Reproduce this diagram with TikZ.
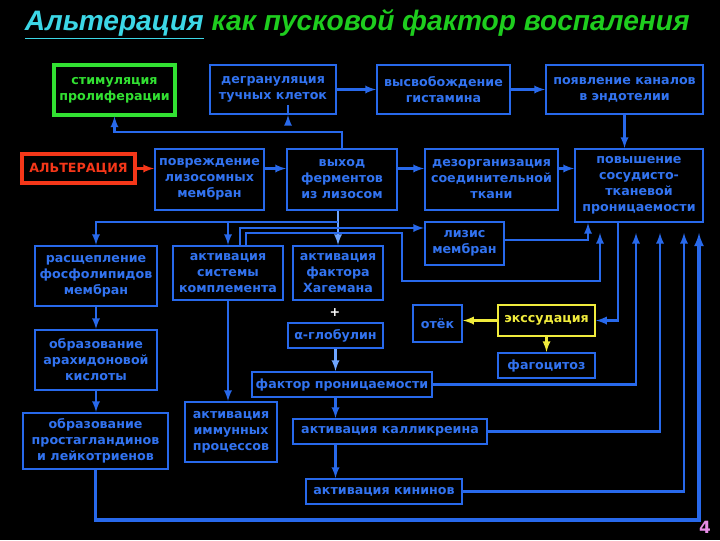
\documentclass[tikz,border=0pt]{standalone}
\usepackage{fontspec}
\setmainfont{DejaVu Sans}
\newfontfamily\titlefont{Liberation Sans}
\usetikzlibrary{calc}
\definecolor{lineblue}{RGB}{40,105,235}
\definecolor{textblue}{RGB}{50,115,240}
\definecolor{lightline}{RGB}{110,165,255}
\definecolor{boxgreen}{RGB}{50,225,50}
\definecolor{boxred}{RGB}{245,55,25}
\definecolor{boxyellow}{RGB}{240,235,60}
\definecolor{titlecyan}{RGB}{60,215,230}
\definecolor{titlegreen}{RGB}{30,205,30}
\definecolor{pagepink}{RGB}{230,140,230}
\begin{document}
\begin{tikzpicture}[x=0.025cm,y=-0.025cm,
	box/.style={draw=lineblue, line width=1.5pt, text=textblue, font=\fontsize{9}{11.4}\selectfont\bfseries, align=center, inner sep=0pt},
	sz/.style 2 args={minimum width=#1*0.025cm, minimum height=#2*0.025cm},
	arr/.style={draw=lineblue, line width=1.6pt, -latex},
	yarr/.style={draw=boxyellow, line width=1.6pt, -latex}]
	\fill[black] (0,0) rectangle (720,540);
	\useasboundingbox (0,0) rectangle (720,540);
	\node[anchor=base west, font=\titlefont\fontsize{20}{24}\selectfont\bfseries\itshape] (title) at (20,30) {\textcolor{titlecyan}{\underline{Альтерация}} \textcolor{titlegreen}{как пусковой фактор воспаления}};
	\node[box, draw=boxgreen, line width=2.2pt, text=boxgreen, sz={121}{50}] (stim) at (114.5,90) {стимуляция\\пролиферации};
	\node[box, sz={126}{49}] (degr) at (273,89.5) {дегрануляция\\тучных клеток};
	\node[box, sz={133}{49}] (hist) at (443.5,89.5) {высвобождение\\гистамина};
	\node[box, sz={157}{49}] (kanal) at (624.5,89.5) {появление каналов\\в эндотелии};
	\node[box, draw=boxred, line width=3pt, text=boxred, sz={113}{29}] (alt) at (78.5,168.5) {АЛЬТЕРАЦИЯ};
	\node[box, sz={109}{61}] (povr) at (209.5,179.5) {повреждение\\лизосомных\\мембран};
	\node[box, sz={110}{61}] (vyhod) at (342,179.5) {выход\\ферментов\\из лизосом};
	\node[box, sz={133}{61}] (dezorg) at (491.5,179.5) {дезорганизация\\соединительной\\ткани};
	\node[box, sz={128}{73}] (povysh) at (639,185.5) {повышение\\сосудисто-\\тканевой\\проницаемости};
	\node[box, sz={79}{43}] (lizis) at (464.5,243.5) {лизис\\мембран};
	\node[box, sz={122}{60}] (rassch) at (96,276) {расщепление\\фосфолипидов\\мембран};
	\node[box, sz={110}{54}] (kompl) at (228,273) {активация\\системы\\комплемента};
	\node[box, sz={90}{54}] (hagem) at (338,273) {активация\\фактора\\Хагемана};
	\node[box, draw=none, text=white] (plus) at (335,313) {+};
	\node[box, sz={95}{25}] (glob) at (335.5,335.5) {α-глобулин};
	\node[box, sz={180}{25}] (faktor) at (342,384.5) {фактор проницаемости};
	\node[box, sz={122}{60}] (arah) at (96,360) {образование\\арахидоновой\\кислоты};
	\node[box, sz={145}{56}] (prost) at (95.5,441) {образование\\простагландинов\\и лейкотриенов};
	\node[box, sz={92}{60}] (immun) at (231,432) {активация\\иммунных\\процессов};
	\node[box, sz={194}{25}] (kallik) at (390,431.5) {активация калликреина};
	\node[box, sz={156}{25}] (kinin) at (384,491.5) {активация кининов};
	\node[box, sz={49}{37}] (otek) at (437.5,323.5) {отёк};
	\node[box, draw=boxyellow, text=boxyellow, sz={97}{31}] (exsud) at (546.5,320.5) {экссудация};
	\node[box, sz={97}{25}] (fagoc) at (546.5,365.5) {фагоцитоз};
	\node[text=pagepink, font=\bfseries\fontsize{12}{14}\selectfont] (pnum) at (705,527) {4};
	\coordinate (jtop) at (342,132);
	\coordinate (jmid) at (338,222);
	\coordinate (u1) at (600,233);
	\coordinate (u2) at (636,233);
	\coordinate (u3) at (660,233);
	\coordinate (u4) at (684,233);
	\coordinate (u5) at (699,233);
	\draw[arr, draw=boxred] (alt) -- (povr.west |- alt);
	\draw[arr] (povr.east |- alt) -- (vyhod.west |- alt);
	\draw[arr] (vyhod.east |- alt) -- (dezorg.west |- alt);
	\draw[arr] (dezorg.east |- alt) -- (povysh.west |- alt);
	\draw[arr] (degr) -- (hist);
	\draw[arr] (hist) -- (kanal);
	\draw[arr] (kanal) -- (kanal |- povysh.north);
	\draw[arr] (vyhod.north) -- (jtop) -| (stim.south);
	\draw[arr] ($(degr.south)+(15,0)$ |- jtop) -- ($(degr.south)+(15,0)$);
	\draw[arr, draw=lightline] (vyhod.south -| hagem) -- (hagem.north);
	\draw[arr] (jmid) -| (rassch.north);
	\draw[arr] (jmid -| kompl.north) -- (kompl.north);
	\draw[arr] ($(kompl.north)+(12,0)$) |- (lizis.west |- 0,228);
	\draw[arr] ($(kompl.north)+(18,0)$) |- (402,233) |- (u1 |- 0,281) -- (u1);
	\draw[arr] (lizis.east |- 0,240) -| ($(povysh.south)+(-51,0)$);
	\draw[arr] ($(povysh.south)+(-21,0)$) |- (exsud.east);
	\draw[arr] (faktor.east) -| (u2);
	\draw[arr] (kallik.east) -| (u3);
	\draw[arr] (kinin.east) -| (u4);
	\draw[arr, line width=2.2pt] (prost.south) |- (u5 |- 0,520) -- (u5);
	\draw[arr] (rassch) -- (arah);
	\draw[arr] (arah) -- (arah |- prost.north);
	\draw[arr] (kompl.south) -- (kompl.south |- immun.north);
	\draw[arr, draw=lightline] (glob) -- (glob |- faktor.north);
	\draw[arr] (glob |- faktor.south) -- (glob |- kallik.north);
	\draw[arr] (glob |- kallik.south) -- (glob |- kinin.north);
	\draw[yarr] (exsud.west) -- (otek.east |- exsud.west);
	\draw[yarr] (exsud) -- (fagoc);
\end{tikzpicture}
\end{document}
